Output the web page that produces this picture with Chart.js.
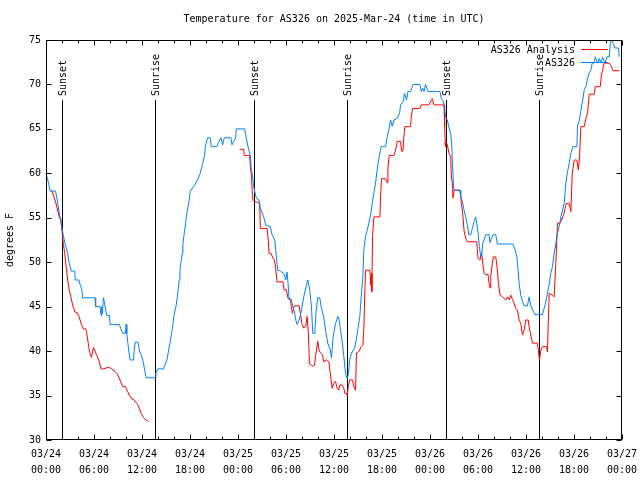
<!DOCTYPE html>
<html>
<head>
<meta charset="utf-8">
<script src="https://cdn.jsdelivr.net/npm/chart.js@4.4.1/dist/chart.umd.min.js"></script>
<style>html,body{margin:0;padding:0;background:#fff;}canvas{display:block;}</style>
</head>
<body>
<canvas id="c" width="640" height="480"></canvas>
<script>
// ---- data (hours since 03/24 00:00 UTC, temperature in degrees F) ----
const blueHours = [0,0.3,0.5,1.2,1.3,1.4,1.75,2.17,2.4,2.71,2.88,3.17,3.6,3.65,4.13,4.25,4.46,4.59,6.13,6.21,6.76,6.89,6.97,7.05,7.18,7.3,7.47,7.6,7.93,8.01,9.18,9.35,9.6,9.93,10.02,10.1,10.22,10.35,10.52,10.94,11.02,11.14,11.52,11.69,11.94,12.1,12.31,12.52,13.65,13.73,13.98,14.69,14.9,15.11,15.31,15.52,15.69,15.86,15.99,16.24,16.4,16.53,16.65,16.74,16.86,17.03,17.11,17.24,17.4,17.53,17.7,17.9,18.03,18.45,18.78,19.07,19.28,19.57,19.82,19.91,20.2,20.53,20.66,21.37,21.58,21.87,22.08,22.29,23.12,23.25,23.46,23.71,23.79,24.83,25.0,25.25,25.54,25.67,25.83,25.96,26.13,26.3,26.63,26.79,27.21,27.46,28.05,28.26,28.59,28.8,28.96,29.3,29.72,29.97,30.13,30.26,30.38,30.63,30.84,31.05,31.22,31.39,31.64,31.89,32.22,32.55,32.72,32.97,33.18,33.35,33.6,33.77,33.97,34.22,34.39,34.72,34.97,35.22,35.56,35.68,35.89,36.19,36.48,36.64,36.81,37.02,37.23,37.44,37.65,37.81,37.98,38.27,38.56,38.77,38.98,39.23,39.4,39.61,39.73,39.94,40.15,40.36,40.57,40.78,40.99,41.19,41.4,41.65,41.9,42.45,42.65,42.86,43.07,43.28,43.49,43.91,44.2,44.32,44.66,44.82,45.08,45.24,45.58,45.87,46.74,46.91,47.08,47.25,47.45,47.75,49.25,49.42,49.67,49.83,50.0,50.17,50.38,50.58,50.71,50.79,50.92,51.0,51.75,51.84,52.05,52.25,52.46,52.67,52.84,53.09,53.3,53.51,53.71,53.84,54.01,54.17,54.34,54.47,54.59,54.76,54.97,55.38,55.51,55.68,55.93,56.22,56.43,58.35,58.64,58.85,59.02,59.14,59.35,59.56,59.77,60.18,60.39,60.6,61.1,62.06,62.35,62.6,62.85,63.1,63.31,63.52,63.73,63.94,64.14,64.36,64.77,64.98,65.19,65.4,65.61,65.86,66.36,66.44,66.69,66.86,67.07,67.28,67.53,67.7,67.9,68.11,68.28,68.53,68.66,68.95,69.16,69.37,69.57,69.87,70.12,70.41,70.53,70.7,70.91,71.12,71.54,71.66];
const blueTemps = [60,59,58,58,57.5,57,55,53,52,51,50,49,49,48,48,47.5,47,46,46,45,45,44,45,44.2,46,45.5,44.5,44,44,43,43,42.5,42,42,43,42,41,40,39,39,40,41,41,40,39.5,39,38,37,37,37.5,38,38,38.5,39,40,41,42,43,44,45,46,47,48,49,50,51,52,53,54,55,56,57,58,58.5,59,59.5,60,61,62,63,64,64,63,63,63.5,64,63.2,64,64,63.2,63.6,64,65,65,64.1,63,62,60.4,59.6,58.5,57.8,57.2,57,56.1,55.1,54.2,54,53.1,52.5,50.6,49.1,49,48.75,48,48.9,47.6,45.9,45.9,45,44.4,43.5,43,43.5,44.4,46.1,47.4,48,46.9,45,42,42,44.6,46,46,45,43.8,42.2,40.9,40.1,39.2,41.6,43.1,43.9,43.5,42.4,41.1,39.4,37.5,36.9,37.5,39.2,39.9,40.3,41.2,42.4,43.9,46.1,48.4,51.4,52.9,53.6,54.4,55.3,56.6,57.8,58.9,60.4,61.9,63,63,64.1,64.9,66,65.3,66,66.2,66.75,67.7,68.1,69,68.25,69.2,69.2,70,70,69.2,69.6,69.2,70,69.2,69.2,68.4,68.1,67.1,66.2,66,65.1,64.5,63.4,61.5,59.1,58.1,58.1,57.4,56.8,55.9,55.1,54.2,53.1,53.1,53.8,54.6,55.1,54.4,53.25,51.75,50.6,51,52.1,52.5,53.1,53.1,52.2,52.7,53.1,53.1,52.05,52.05,51.4,50.6,49.1,47.6,46.3,45.6,45.1,45.1,46.1,45.1,44.1,44.1,45.1,46.1,47.25,48.75,49.5,51,52.1,53.25,54,55.1,56.6,58.9,60.2,61.1,62.25,63,63,65.4,66,67.1,68.1,69.4,69.9,70.7,71.25,71.6,72.4,72.4,73.1,72.4,72.9,72.4,73.1,72.4,73.1,73.1,74.6,75,74.6,74.1,74.1,73.1];

const redHours = [0.71,1.13,1.42,1.67,1.84,2.0,2.17,2.34,2.46,2.71,2.88,3.13,3.38,3.63,3.92,4.09,4.42,4.67,4.97,5.09,5.26,5.43,5.68,5.93,6.14,6.34,6.59,6.89,7.18,7.8,8.22,8.64,8.85,9.14,9.35,9.6,9.93,10.18,10.43,10.73,10.93,11.27,11.44,11.69,11.9,12.19,12.6,12.81,18,24.22,24.71,24.79,25.46,25.54,25.7,25.8,25.88,26.3,26.71,26.79,27.63,27.8,27.88,28.13,28.38,28.55,28.71,28.88,29.63,29.76,30.05,30.26,30.55,30.68,30.8,31.05,31.64,31.8,32.01,32.22,32.47,32.64,32.8,32.93,33.26,33.56,33.72,33.97,34.14,34.31,34.56,34.72,35.06,35.35,35.48,35.64,35.77,35.98,36.19,36.39,36.6,36.73,37.02,37.23,37.35,37.56,37.65,37.81,37.98,38.31,38.48,38.69,38.81,39.11,39.4,39.61,39.73,39.86,39.94,40.48,40.61,40.69,40.73,40.82,40.99,41.74,41.82,41.95,42.45,42.65,42.74,42.9,43.49,43.7,43.91,44.32,44.45,44.62,44.72,44.85,45.58,45.66,45.83,46.74,46.91,47.87,48.08,48.29,48.5,49.75,49.83,49.92,50.0,50.17,50.38,50.58,50.67,50.79,50.88,51.0,51.75,51.92,52.09,52.25,52.46,52.67,53.84,53.92,54.01,54.26,54.47,54.59,54.76,55.01,55.26,55.38,55.51,55.59,55.8,55.93,56.22,56.43,56.55,56.76,57.05,57.47,57.68,57.89,58.1,58.31,58.51,58.72,58.93,59.14,59.35,59.56,59.77,59.98,60.27,60.39,60.6,60.81,61.44,61.56,61.69,61.85,62.06,62.56,62.69,62.77,62.9,63.31,63.52,63.73,63.94,64.27,64.44,64.69,64.86,65.03,65.4,65.61,65.78,66.03,66.36,66.53,66.69,66.86,67.28,67.49,67.7,67.9,68.53,68.66,69.28,69.41,69.57,69.78,70.41,70.62,70.87,71.66];
const redTemps = [58.1,57,56,55,55,53.5,52,51,50,48,47,46,45,44.4,44.3,44,43,42.5,42.5,42,41,40,39.3,40.4,40,39.5,39,38,38,38.2,38,37.7,37.5,37,36.5,36,36,35.5,35,34.6,34.6,34.2,34,33.5,33,32.5,32.2,32.1,null,62.7,62.7,62,62,60.8,59.6,57.5,57,56.8,56.6,53.8,53.8,52.3,51,51,50.4,50.3,49.3,47.8,47.8,46.9,46.9,45.9,45.75,45,44.25,45.1,45.1,44.25,43,42.6,42.8,43.9,42,38.6,38.3,38.4,39.6,41.1,40.1,39.8,39.6,38.8,39,38.8,37.9,36.75,35.8,36.4,36.6,35.8,35.6,36.2,36.2,35.8,35.25,35.25,35,36.2,36.75,36.75,36,35.6,39.8,39.95,40.5,40.7,42.4,46.9,49.1,49.1,47.4,48.75,46.7,52.9,55.1,55.1,57.4,59.4,59.4,58.95,60.6,62,62,62.6,63.6,63.6,62.5,62.5,64,65.25,65.25,66.4,67.3,67.3,67.7,67.7,68.1,68.4,67.7,67.7,65.25,63,63.6,63.2,62.25,61.9,59.6,58.9,57.2,58.1,58.1,56.6,55.5,53.6,52.7,52.3,52.3,51.4,50.4,50.25,51,49.9,48.75,48.6,48.6,47.6,47.1,48.4,49.9,50.6,50.6,49.1,47.6,46.3,46.1,45.75,46.1,45.8,46.3,45.8,45.4,44.8,44.6,43.5,43.1,41.8,42.4,43.5,43.5,42.75,41.8,40.9,40.9,39.9,39,40.1,40.5,40.5,39.9,42.75,46.5,46.3,46.1,49.9,54.4,54.4,54.75,55.3,55.9,56.6,56.6,55.7,60,61.5,61.5,60.4,61.7,65.25,65.25,66.2,66.75,68.9,68.9,69.75,69.75,70.9,71.6,72.4,72.4,72.1,71.55,71.55];

const sunTimes = [1.95, 13.67, 25.95, 37.68, 49.97, 61.62];
const sunLabels = ["Sunset", "Sunrise", "Sunset", "Sunrise", "Sunset", "Sunrise"];

const xTickLabels = [["03/24","00:00"],["03/24","06:00"],["03/24","12:00"],["03/24","18:00"],["03/25","00:00"],["03/25","06:00"],["03/25","12:00"],["03/25","18:00"],["03/26","00:00"],["03/26","06:00"],["03/26","12:00"],["03/26","18:00"],["03/27","00:00"]];
const yTickLabels = ["30","35","40","45","50","55","60","65","70","75"];

const seriesNames = ["AS326 Analysis", "AS326"];
const titleText = "Temperature for AS326 on 2025-Mar-24 (time in UTC)";
const yTitleText = "degrees F";

// ---- rendering ----
const FAMILY = '"DejaVu Sans Mono", "Liberation Mono", monospace';
const FONT = '10px ' + FAMILY;
const RED = '#ff0000';
const BLUE = '#0080ff';

const toPts = (hs, ts) => hs.map((h, i) => ({x: h, y: ts[i]}));

const decor = {
  id: 'decor',
  beforeDatasetsDraw(chart) {
    const {ctx, chartArea: a, scales: {x}} = chart;
    ctx.save();
    ctx.strokeStyle = '#000';
    ctx.lineWidth = 1;
    ctx.fillStyle = '#000';
    ctx.font = FONT;
    const topY = Math.round(a.bottom - 0.85 * (a.bottom - a.top));
    sunTimes.forEach((t, i) => {
      const px = Math.round(x.getPixelForValue(t)) + 0.5;
      ctx.beginPath();
      ctx.moveTo(px, a.bottom);
      ctx.lineTo(px, topY);
      ctx.stroke();
      ctx.save();
      ctx.translate(px + 1, topY - 4);
      ctx.rotate(-Math.PI / 2);
      ctx.textAlign = 'left';
      ctx.textBaseline = 'middle';
      ctx.fillText(sunLabels[i], 0, 0);
      ctx.restore();
    });
    // key
    const ds = chart.data.datasets;
    const rows = [ds[0], ds[1]];
    rows.forEach((d, i) => {
      const yy = a.top + 10 + i * 13;
      ctx.textAlign = 'right';
      ctx.textBaseline = 'middle';
      ctx.fillStyle = '#000';
      ctx.fillText(d.label, a.right - 47, yy);
      ctx.strokeStyle = d.borderColor;
      ctx.beginPath();
      ctx.moveTo(a.right - 41, Math.floor(yy) - 0.5);
      ctx.lineTo(a.right - 14, Math.floor(yy) - 0.5);
      ctx.stroke();
    });
    ctx.restore();
  },
  afterDraw(chart) {
    const {ctx, chartArea: a, scales: {x, y}} = chart;
    ctx.save();
    ctx.strokeStyle = '#000';
    ctx.lineWidth = 1;
    const L = Math.round(a.left) + 0.5, R = Math.round(a.right) - 0.5;
    const T = Math.round(a.top) + 0.5, B = Math.round(a.bottom) - 0.5;
    ctx.strokeRect(L, T, R - L, B - T);
    ctx.beginPath();
    for (let h = 0; h <= 72; h += 2) {
      const px = Math.round(x.getPixelForValue(h)) + 0.5;
      const len = (h % 6 === 0) ? 5 : 3;
      ctx.moveTo(px, B); ctx.lineTo(px, B - len);
      ctx.moveTo(px, T); ctx.lineTo(px, T + len);
    }
    for (let v = 30; v <= 75; v += 5) {
      const py = Math.round(y.getPixelForValue(v)) + 0.5;
      ctx.moveTo(L, py); ctx.lineTo(L + 5, py);
      ctx.moveTo(R, py); ctx.lineTo(R - 5, py);
    }
    ctx.stroke();
    // title
    ctx.fillStyle = '#000';
    ctx.font = FONT;
    ctx.textAlign = 'center';
    ctx.textBaseline = 'middle';
    ctx.fillText(titleText, (a.left + a.right) / 2, 19);
    // y title
    ctx.save();
    ctx.translate(10, (a.top + a.bottom) / 2);
    ctx.rotate(-Math.PI / 2);
    ctx.fillText(yTitleText, 0, 0);
    ctx.restore();
    ctx.restore();
  }
};

new Chart(document.getElementById('c'), {
  type: 'line',
  data: {
    datasets: [
      {label: seriesNames[0], data: toPts(redHours, redTemps), borderColor: RED, borderWidth: 1, pointRadius: 0, tension: 0, fill: false, spanGaps: false, order: 2},
      {label: seriesNames[1], data: toPts(blueHours, blueTemps), borderColor: BLUE, borderWidth: 1, pointRadius: 0, tension: 0, fill: false, order: 1}
    ]
  },
  options: {
    responsive: false,
    animation: false,
    devicePixelRatio: 1,
    events: [],
    layout: {padding: {left: 0, right: 18, top: 40, bottom: 0}},
    plugins: {legend: {display: false}, tooltip: {enabled: false}, title: {display: false}},
    scales: {
      x: {
        type: 'linear', min: 0, max: 72,
        grid: {display: false, drawTicks: false},
        border: {display: false},
        afterFit(s) { s.height = 40; s.paddingLeft = 0; s.paddingRight = 0; },
        ticks: {
          stepSize: 6, autoSkip: false, maxRotation: 0, minRotation: 0, padding: 7,
          color: '#000', font: {family: FAMILY, size: 10, lineHeight: 1.55},
          callback: (v, i) => xTickLabels[i]
        }
      },
      y: {
        min: 30, max: 75,
        grid: {display: false, drawTicks: false},
        border: {display: false},
        afterFit(s) { s.width = 46; s.paddingTop = 0; s.paddingBottom = 0; },
        ticks: {
          stepSize: 5, padding: 5, color: '#000', font: {family: FAMILY, size: 10},
          callback: (v, i) => yTickLabels[i]
        }
      }
    }
  },
  plugins: [decor]
});
</script>
</body>
</html>
